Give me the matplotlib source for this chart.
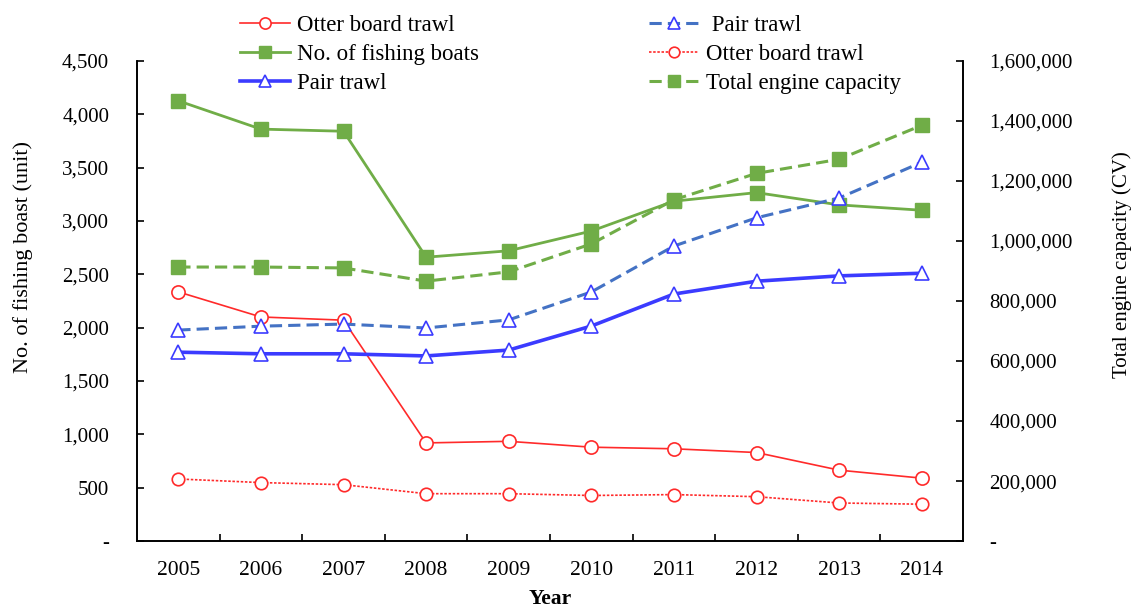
import numpy as np
import matplotlib
matplotlib.use("Agg")
import matplotlib.pyplot as plt
from matplotlib.ticker import FuncFormatter, FixedLocator

plt.rcParams['font.family'] = ['Liberation Serif', 'DejaVu Serif']

years = ['2005', '2006', '2007', '2008', '2009', '2010', '2011', '2012', '2013', '2014']

# left axis: number of boats (unit)
boats_total = [4125, 3860, 3840, 2660, 2720, 2905, 3185, 3265, 3150, 3100]
boats_otter = [2335, 2100, 2070, 920, 935, 880, 865, 830, 665, 590]
boats_pair = [1770, 1755, 1755, 1735, 1790, 2015, 2315, 2435, 2485, 2510]

# right axis: engine capacity (CV)
cap_total = [913000, 913000, 910000, 866000, 897000, 990000, 1137000, 1225000, 1272000, 1385000]
cap_pair = [703000, 716000, 723000, 710000, 737000, 830000, 983000, 1077000, 1143000, 1262000]
cap_otter = [207000, 195000, 188000, 158000, 158000, 152000, 155000, 148000, 127000, 123000]

x = np.arange(len(years)) + 0.5

fig = plt.figure(figsize=(11.35, 6.08), dpi=100)
ax = fig.add_axes([0.1207, 0.110, 0.7278, 0.790])
ax2 = ax.twinx()

red = '#ff2a2a'
green = '#70ad47'
blue = '#3b3bff'
blue_d = '#4472c4'

l1, = ax.plot(x, boats_otter, color=red, lw=1.2, marker='o', ms=9.5,
              mfc='white', mec=red, mew=1.2, label='Otter board trawl')
l2, = ax.plot(x, boats_total, color=green, lw=2, marker='s', ms=9.5,
              mfc=green, mec=green, label='No. of fishing boats')
l3, = ax.plot(x, boats_pair, color=blue, lw=2.6, marker='^', ms=9.5,
              mfc='white', mec=blue, mew=1.2, label='Pair trawl')
l4, = ax2.plot(x, cap_pair, color=blue_d, lw=2.2, ls=(0, (4, 2)), marker='^', ms=9.5,
               mfc='white', mec=blue, mew=1.2, label=' Pair trawl')
l5, = ax2.plot(x, cap_otter, color=red, lw=1.2, ls=(0, (1.5, 1)), marker='o', ms=9,
               mfc='white', mec=red, mew=1.2, label='Otter board trawl')
l6, = ax2.plot(x, cap_total, color=green, lw=2.2, ls=(0, (4, 2)), marker='s', ms=9.5,
               mfc=green, mec=green, label='Total engine capacity')

ax.set_xlim(0, len(years))
ax.set_ylim(0, 4500)
ax2.set_ylim(0, 1600000)
ax.set_yticks(np.arange(0, 4501, 500))
ax2.set_yticks(np.arange(0, 1600001, 200000))

fmt = FuncFormatter(lambda v, p: '-' if v == 0 else f'{v:,.0f}')
ax.yaxis.set_major_formatter(fmt)
ax2.yaxis.set_major_formatter(fmt)

ax.set_xticks(x)
ax.set_xticklabels(years)
ax.xaxis.set_minor_locator(FixedLocator(np.arange(1, len(years))))
ax.tick_params(axis='x', which='major', length=0, pad=14, labelsize=15.5)
ax.tick_params(axis='x', which='minor', direction='in', length=5, width=1.2)
ax.tick_params(axis='y', direction='in', length=5, width=1.2, pad=20, labelsize=15)
ax2.tick_params(axis='y', direction='in', length=5, width=1.2, pad=19, labelsize=15)

for a in (ax, ax2):
    a.spines['top'].set_visible(False)
    for s in ('left', 'right', 'bottom'):
        a.spines[s].set_linewidth(1.2)

# axis titles
fig.text(23 / 1135, 1 - 257 / 608, 'No. of fishing boast (unit)', rotation=90,
         ha='center', va='center', fontsize=16)
fig.text(1122 / 1135, 1 - 265 / 608, 'Total engine capacity (CV)', rotation=90,
         ha='center', va='center', fontsize=15)
fig.text(550 / 1135, 1 - 599 / 608, 'Year', ha='center', va='center',
         fontsize=15.5, fontweight='bold')

fig.legend(handles=[l1, l2, l3, l4, l5, l6], ncol=2, loc='upper left',
           bbox_to_anchor=(0.2115, 0.976), frameon=False, fontsize=16.5,
           handlelength=2.2, handletextpad=0.3, columnspacing=7.4,
           labelspacing=0.36, borderaxespad=0, borderpad=0, markerscale=0.85)

fig.savefig('out.png', dpi=100)
